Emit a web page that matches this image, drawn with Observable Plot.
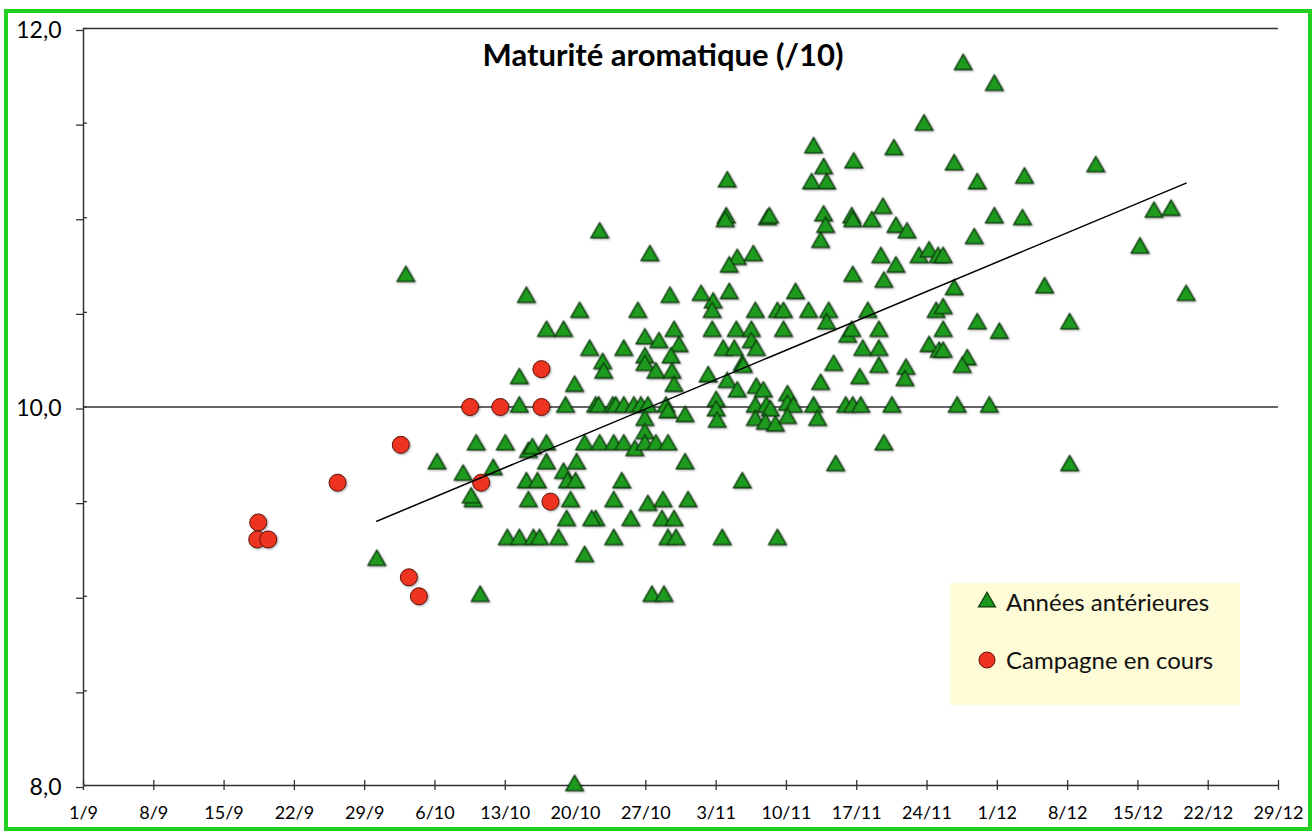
<!DOCTYPE html>
<html lang="fr">
<head>
<meta charset="utf-8">
<script src="https://cdn.jsdelivr.net/npm/d3@7"></script>
<script src="https://cdn.jsdelivr.net/npm/@observablehq/plot@0.6"></script>
<style>
  html, body { margin: 0; padding: 0; background: #fff; }
  #wrap { position: relative; width: 1314px; height: 832px; font-family: Lato, "Open Sans", sans-serif; overflow: hidden; }
  #border { position: absolute; left: 4px; top: 9px; width: 1308px; height: 822px; border: 4px solid #22d022; box-sizing: border-box; pointer-events: none; }
  #title { position: absolute; left: 413px; width: 500px; top: 36px; text-align: center; font: bold 31px Lato, sans-serif; color: #000; line-height: 37px; }
  #legend { position: absolute; left: 950px; top: 583px; width: 290px; height: 122px; background: #fefbd7; }
  .item { position: absolute; left: 28px; font: 24px Lato, sans-serif; color: #111; display: flex; align-items: center; line-height: 30px; }
  .item svg { margin-right: 10px; overflow: visible; }
  #chart svg g[aria-label="dot"] { filter: drop-shadow(1px 1.5px 1px rgba(0,0,0,0.35)); }
</style>
</head>
<body>
<div id="wrap">
  <div id="chart"></div>
  <div id="title">Maturité aromatique (/10)</div>
  <div id="legend"></div>
  <div id="border"></div>
</div>
<script>
// Jours comptés depuis le 1er septembre ; notes de maturité aromatique (/10)
const anterieuresJour = [
  44.1, 58.4, 49.4, 55.2, 46.1, 47.8, 58.8, 55.9, 57.3, 50.4, 53.8, 59.3, 51.7, 51.8, 55.9, 55.9, 57.0, 58.5, 58.6, 58.8,
  43.4, 48.9, 43.4, 48.0, 51.0, 51.3, 52.7, 53.0, 53.8, 54.8, 55.5, 56.2, 58.0, 58.2, 59.9, 55.9, 55.9, 39.1, 42.0, 44.3,
  44.7, 46.1, 49.9, 51.4, 52.8, 53.8, 54.9, 55.9, 57.0, 58.2, 59.9, 46.1, 49.1, 47.8, 48.2, 49.0, 44.1, 45.2, 40.8, 37.8,
  35.2, 38.8, 38.6, 44.3, 48.5, 53.6, 52.8, 56.2, 57.7, 60.2, 48.1, 51.0, 50.6, 54.5, 57.6, 58.8, 42.2, 43.4, 44.8, 45.4,
  47.3, 52.8, 58.2, 59.0, 49.9, 51.4, 56.4, 39.5, 48.9, 56.6, 57.8, 29.2, 32.1, 62.7, 62.6, 66.9, 69.1, 69.7, 72.2, 74.2,
  74.0, 78.1, 84.9, 62.6, 65.0, 66.5, 69.7, 66.5, 67.0, 63.7, 64.8, 76.1, 76.5, 79.2, 77.6, 79.2, 79.2, 84.2, 85.2, 65.6,
  65.7, 74.7, 77.3, 81.9, 81.8, 62.2, 64.1, 65.1, 67.0, 67.7, 70.1, 73.4, 63.0, 63.0, 66.9, 68.0, 68.4, 70.1, 70.7, 72.7,
  75.9, 76.6, 77.4, 80.5, 63.1, 66.9, 67.9, 68.9, 70.1, 73.1, 79.7, 74.9, 65.6, 63.6, 69.1, 83.7, 72.7, 80.7, 76.7, 64.1,
  73.7, 72.5, 74.0, 64.0, 63.9, 68.1, 68.3, 73.7, 73.9, 73.4, 76.5, 76.6, 78.5, 79.6, 80.9, 82.0, 83.2, 84.2, 85.1, 65.1,
  64.3, 66.7, 79.4, 80.9, 76.6, 79.7, 61.5, 64.3, 70.9, 87.6, 90.7, 86.7, 89.0, 93.7, 100.8, 90.7, 93.5, 88.7, 85.6, 106.6,
  108.3, 105.2, 86.7, 95.7, 109.8, 85.6, 89.0, 98.2, 85.6, 85.6, 91.2, 88.0, 87.5, 87.0, 90.2, 98.2
];
const anterieuresNote = [
  10.58, 10.58, 10.5, 10.5, 10.4, 10.4, 10.4, 10.36, 10.34, 10.3, 10.3, 10.32, 10.23, 10.18, 10.26, 10.22, 10.18, 10.26, 10.18, 10.11,
  10.15, 10.11, 10.0, 10.0, 10.0, 10.0, 10.0, 10.0, 10.0, 10.0, 10.0, 10.0, 10.0, 9.97, 9.95, 9.93, 9.86, 9.8, 9.8, 9.76,
  9.78, 9.8, 9.8, 9.8, 9.8, 9.8, 9.77, 9.8, 9.8, 9.8, 9.7, 9.7, 9.7, 9.65, 9.6, 9.6, 9.6, 9.6, 9.67, 9.64,
  9.7, 9.5, 9.52, 9.5, 9.5, 9.6, 9.5, 9.48, 9.5, 9.5, 9.4, 9.4, 9.4, 9.4, 9.4, 9.4, 9.3, 9.3, 9.3, 9.3,
  9.3, 9.3, 9.3, 9.3, 9.21, 10.92, 10.8, 9.0, 8.0, 9.0, 9.0, 9.19, 10.69, 10.55, 10.5, 10.5, 10.5, 10.5, 10.5, 10.5,
  10.44, 10.5, 10.5, 10.4, 10.4, 10.4, 10.4, 10.34, 10.3, 10.3, 10.3, 10.37, 10.4, 10.4, 10.3, 10.3, 10.21, 10.32, 10.29, 10.22,
  10.21, 10.22, 10.15, 10.2, 10.14, 10.16, 10.13, 10.08, 10.1, 10.08, 10.06, 10.12, 10.03, 9.98, 10.0, 10.0, 9.98, 10.01, 10.0, 10.0,
  10.0, 10.0, 10.0, 10.0, 9.92, 9.93, 9.91, 9.9, 9.94, 9.93, 9.8, 9.69, 9.6, 9.3, 9.3, 11.49, 11.37, 11.36, 11.29, 11.19,
  11.26, 11.18, 11.18, 11.0, 10.98, 10.99, 11.0, 11.01, 10.95, 10.87, 11.0, 10.98, 10.98, 11.05, 10.95, 10.92, 10.79, 10.82, 10.79, 10.78,
  10.74, 10.8, 10.79, 10.74, 10.69, 10.66, 10.59, 10.6, 10.6, 11.81, 11.7, 11.28, 11.18, 11.21, 11.27, 11.0, 10.99, 10.89, 10.79, 11.03,
  11.04, 10.84, 10.62, 10.63, 10.59, 10.52, 10.44, 10.44, 10.4, 10.29, 10.39, 10.25, 10.21, 10.0, 10.0, 9.69
];
const campagneJour = [17.4, 17.3, 18.4, 25.3, 31.6, 32.4, 33.4, 38.5, 41.5, 45.6, 45.6, 39.6, 46.5];
const campagneNote = [9.39, 9.3, 9.3, 9.6, 9.8, 9.1, 9.0, 10.0, 10.0, 10.0, 10.2, 9.6, 9.5];

const seriesLabels = ["Années antérieures", "Campagne en cours"];
const yTicks = [8, 8.5, 9, 9.5, 10, 10.5, 11, 11.5, 12];
const yLabelled = [8, 10, 12];
const xTicks = d3.range(0, 120, 7);   // une graduation par semaine
const origine = new Date(2013, 8, 1); // 1/9

const anterieures = anterieuresJour.map((d, i) => ({jour: d, note: anterieuresNote[i]}));
const campagne = campagneJour.map((d, i) => ({jour: d, note: campagneNote[i]}));

const fmtJour = d => { const t = d3.timeDay.offset(origine, d); return `${t.getDate()}/${t.getMonth() + 1}`; };
const fmtNote = v => yLabelled.includes(v) ? v.toFixed(1).replace(".", ",") : "";

const green = "#1e9b1e", greenStroke = "#0c3a0c";
const red = "#ee3320", redStroke = "#5c1206";
const axisColor = "#333";

const chart = Plot.plot({
  width: 1314,
  height: 832,
  marginLeft: 83,
  marginRight: 36,
  marginTop: 28,
  marginBottom: 47,
  style: {fontFamily: "Lato, sans-serif", background: "transparent", color: "#000"},
  x: {domain: [0, 119]},
  y: {domain: [8, 12]},
  marks: [
    Plot.ruleY([10, 12], {stroke: axisColor, strokeWidth: 1.5}),
    Plot.ruleY([8], {stroke: axisColor, strokeWidth: 1.5}),
    Plot.ruleX([0], {stroke: axisColor, strokeWidth: 1.5}),
    Plot.axisY({ticks: yTicks, tickSize: 7, tickPadding: 15, tickFormat: fmtNote, dy: 2, stroke: axisColor, strokeWidth: 1.3, label: null}),
    Plot.axisY({ticks: yTicks, tickSize: 4, dx: 4, tickFormat: () => "", stroke: axisColor, strokeWidth: 1.3, label: null}),
    Plot.axisX({ticks: xTicks, tickSize: 5, tickPadding: 16, tickFormat: fmtJour, stroke: axisColor, strokeWidth: 1.3, label: null}),
    Plot.axisX({ticks: xTicks, tickSize: 5, dy: -5, tickFormat: () => "", stroke: axisColor, strokeWidth: 1.3, label: null}),
    Plot.dot(anterieures, {x: "jour", y: "note", symbol: "triangle", r: 6.5, fill: green, stroke: greenStroke, strokeWidth: 1.3}),
    Plot.dot(campagne, {x: "jour", y: "note", r: 8.5, fill: red, stroke: redStroke, strokeWidth: 1}),
    Plot.linearRegressionY(anterieures, {x: "jour", y: "note", stroke: "#000", strokeWidth: 1.5, ci: 0})
  ]
});
document.getElementById("chart").appendChild(chart);

// Taille des étiquettes d'axes
d3.select(chart).selectAll("text").each(function() {
  const t = this.textContent.trim();
  if (/^\d+,\d$/.test(t)) this.style.fontSize = "23px";
  else if (/^\d+\/\d+$/.test(t)) this.style.fontSize = "18px";
});

// Légende
const legend = d3.select("#legend");
const tri = d3.symbol(d3.symbolTriangle, Math.PI * 6.3 * 6.3)();
seriesLabels.forEach((lab, i) => {
  const item = legend.append("div").attr("class", "item").style("top", i === 0 ? "4px" : "62px");
  const s = item.append("svg").attr("width", 18).attr("height", 18).attr("viewBox", "-9 -9 18 18");
  if (i === 0) s.append("path").attr("d", tri).attr("fill", green).attr("stroke", greenStroke).attr("stroke-width", 1.2);
  else s.append("circle").attr("r", 8).attr("fill", red).attr("stroke", redStroke).attr("stroke-width", 1);
  item.append("span").text(lab);
});
</script>
</body>
</html>
